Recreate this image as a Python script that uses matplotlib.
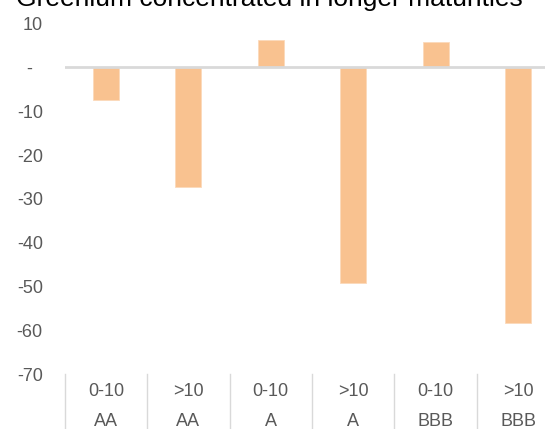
import numpy as np
import matplotlib.pyplot as plt

plt.rcParams['font.family'] = ['Liberation Sans', 'DejaVu Sans']

title = 'Greenium concentrated in longer maturities'
maturity = ['0-10', '>10', '0-10', '>10', '0-10', '>10']
rating = ['AA', 'AA', 'A', 'A', 'BBB', 'BBB']
greenium = [-7.4, -27.3, 6.3, -49.3, 5.8, -58.4]
yticks = [10, 0, -10, -20, -30, -40, -50, -60, -70]
ylabels = ['10', '-  ', '-10', '-20', '-30', '-40', '-50', '-60', '-70']

fig = plt.figure(figsize=(5.45, 4.29), dpi=100)
ax = fig.add_axes([0.1189, 0.1282, 0.9072, 0.8166])

x = np.arange(len(greenium))
ax.bar(x, greenium, width=0.315, color='#F9C290', edgecolor='#FCD9BA', linewidth=0.6, zorder=2)
ax.axhline(0, color='#D9D9D9', lw=2, zorder=3)

ax.set_xlim(-0.5, len(greenium) - 0.5)
ax.set_ylim(-70, 10)
ax.set_yticks(yticks)
ax.set_yticklabels(ylabels)
ax.tick_params(axis='y', length=0, pad=15.8, labelsize=13, labelcolor='#595959')
ax.set_xticks([])
for s in ax.spines.values():
    s.set_visible(False)

# two-level category labels with separators
trans = ax.get_xaxis_transform()
for i in range(len(greenium)):
    ax.text(i, -0.0505, maturity[i], transform=trans, ha='center', va='center',
            fontsize=13, color='#595959')
    ax.text(i, -0.136, rating[i], transform=trans, ha='center', va='center',
            fontsize=13, color='#595959')
for b in np.arange(len(greenium) + 1) - 0.5:
    ax.plot([b, b], [0, -0.16], transform=trans, color='#D9D9D9', lw=1, clip_on=False)

fig.text(16 / 545, 1 - 6 / 429, title, ha='left', va='baseline', fontsize=19, color='black')

fig.savefig('out.png', dpi=100)
